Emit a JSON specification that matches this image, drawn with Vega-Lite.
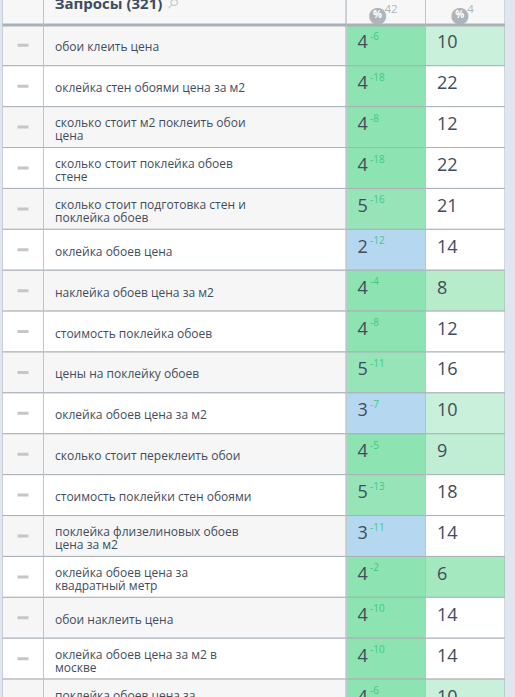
{
  "$schema": "https://vega.github.io/schema/vega-lite/v6.json",
  "background": "#dfe6ef",
  "padding": {"left": 2.5, "top": 0, "right": 10.5, "bottom": 0},
  "spacing": 0,
  "resolve": {"scale": {"fill": "independent"}},
  "config": {
    "view": {"stroke": null},
    "text": {"font": "Open Sans", "color": "#3f4d5e"}
  },
  "datasets": {
    "rows": [
      {"row": 1, "shade": "odd", "lines": 1, "query": "обои клеить цена", "a": 4, "delta": "-6", "b": 10},
      {"row": 2, "shade": "even", "lines": 1, "query": "оклейка стен обоями цена за м2", "a": 4, "delta": "-18", "b": 22},
      {"row": 3, "shade": "odd", "lines": 2, "query": "сколько стоит м2 поклеить обои\nцена", "a": 4, "delta": "-8", "b": 12},
      {"row": 4, "shade": "even", "lines": 2, "query": "сколько стоит поклейка обоев\nстене", "a": 4, "delta": "-18", "b": 22},
      {"row": 5, "shade": "odd", "lines": 2, "query": "сколько стоит подготовка стен и\nпоклейка обоев", "a": 5, "delta": "-16", "b": 21},
      {"row": 6, "shade": "even", "lines": 1, "query": "оклейка обоев цена", "a": 2, "delta": "-12", "b": 14},
      {"row": 7, "shade": "odd", "lines": 1, "query": "наклейка обоев цена за м2", "a": 4, "delta": "-4", "b": 8},
      {"row": 8, "shade": "even", "lines": 1, "query": "стоимость поклейка обоев", "a": 4, "delta": "-8", "b": 12},
      {"row": 9, "shade": "odd", "lines": 1, "query": "цены на поклейку обоев", "a": 5, "delta": "-11", "b": 16},
      {"row": 10, "shade": "even", "lines": 1, "query": "оклейка обоев цена за м2", "a": 3, "delta": "-7", "b": 10},
      {"row": 11, "shade": "odd", "lines": 1, "query": "сколько стоит переклеить обои", "a": 4, "delta": "-5", "b": 9},
      {"row": 12, "shade": "even", "lines": 1, "query": "стоимость поклейки стен обоями", "a": 5, "delta": "-13", "b": 18},
      {"row": 13, "shade": "odd", "lines": 2, "query": "поклейка флизелиновых обоев\nцена за м2", "a": 3, "delta": "-11", "b": 14},
      {"row": 14, "shade": "even", "lines": 2, "query": "оклейка обоев цена за\nквадратный метр", "a": 4, "delta": "-2", "b": 6},
      {"row": 15, "shade": "odd", "lines": 1, "query": "обои наклеить цена", "a": 4, "delta": "-10", "b": 14},
      {"row": 16, "shade": "even", "lines": 2, "query": "оклейка обоев цена за м2 в\nмоскве", "a": 4, "delta": "-10", "b": 14},
      {"row": 17, "shade": "odd", "lines": 2, "query": "поклейка обоев цена за\nквадратный метр", "a": 4, "delta": "-6", "b": 10}
    ],
    "header": [
      {"row": 0, "title": "Запросы (321)", "search": "⌕", "icon": "●", "percent": "%", "a": "42", "b": "4"}
    ]
  },
  "hconcat": [
    {
      "width": 41,
      "height": 697,
      "layer": [
        {
          "data": {"name": "header"},
          "mark": {"type": "rect", "clip": true, "fill": "#f7f7f7", "stroke": "#a9b1b8"},
          "encoding": {"y": {"field": "row", "type": "ordinal", "axis": null, "scale": {"domain": [0, 1, 2, 3, 4, 5, 6, 7, 8, 9, 10, 11, 12, 13, 14, 15, 16, 17], "range": [-16, 720], "paddingInner": 0, "paddingOuter": 0}}}
        },
        {
          "data": {"name": "rows"},
          "mark": {"type": "rect", "clip": true, "stroke": "#a9b1b8"},
          "encoding": {
            "y": {"field": "row", "type": "ordinal", "axis": null},
            "fill": {"field": "shade", "type": "nominal", "legend": null, "scale": {"domain": ["odd", "even"], "range": ["#f6f6f6", "#ffffff"]}}
          }
        },
        {
          "data": {"name": "rows"},
          "mark": {"type": "tick", "clip": true, "color": "#c6c6c6", "thickness": 3, "size": 11, "orient": "horizontal", "opacity": 1},
          "encoding": {"y": {"field": "row", "type": "ordinal", "axis": null}}
        },
        {
          "data": {"name": "header"},
          "mark": {"type": "rule", "clip": true, "color": "#a9b1b8", "strokeWidth": 3},
          "encoding": {"y": {"field": "row", "type": "ordinal", "axis": null, "bandPosition": 1}}
        }
      ]
    },
    {
      "width": 302.5,
      "height": 697,
      "layer": [
        {
          "data": {"name": "header"},
          "mark": {"type": "rect", "clip": true, "fill": "#f7f7f7", "stroke": "#a9b1b8"},
          "encoding": {"y": {"field": "row", "type": "ordinal", "axis": null, "scale": {"domain": [0, 1, 2, 3, 4, 5, 6, 7, 8, 9, 10, 11, 12, 13, 14, 15, 16, 17], "range": [-16, 720], "paddingInner": 0, "paddingOuter": 0}}}
        },
        {
          "data": {"name": "rows"},
          "mark": {"type": "rect", "clip": true, "stroke": "#a9b1b8"},
          "encoding": {
            "y": {"field": "row", "type": "ordinal", "axis": null},
            "fill": {"field": "shade", "type": "nominal", "legend": null, "scale": {"domain": ["odd", "even"], "range": ["#f6f6f6", "#ffffff"]}}
          }
        },
        {
          "data": {"name": "rows"},
          "transform": [{"filter": "datum.lines == 1"}],
          "mark": {"type": "text", "clip": true, "align": "left", "baseline": "middle", "dx": -139.75, "dy": 2, "fontSize": 12},
          "encoding": {
            "y": {"field": "row", "type": "ordinal", "axis": null},
            "text": {"field": "query", "type": "nominal"}
          }
        },
        {
          "data": {"name": "rows"},
          "transform": [{"filter": "datum.lines == 2"}],
          "mark": {"type": "text", "clip": true, "align": "left", "baseline": "middle", "dx": -139.75, "dy": -4, "fontSize": 12, "lineHeight": 13, "lineBreak": "\n"},
          "encoding": {
            "y": {"field": "row", "type": "ordinal", "axis": null},
            "text": {"field": "query", "type": "nominal"}
          }
        },
        {
          "data": {"name": "header"},
          "mark": {"type": "rule", "clip": true, "color": "#a9b1b8", "strokeWidth": 3},
          "encoding": {"y": {"field": "row", "type": "ordinal", "axis": null, "bandPosition": 1}}
        },
        {
          "data": {"name": "header"},
          "mark": {"type": "text", "clip": true, "align": "left", "baseline": "middle", "dx": -140, "dy": 0, "fontSize": 15, "fontWeight": "bold"},
          "encoding": {
            "y": {"field": "row", "type": "ordinal", "axis": null},
            "text": {"field": "title", "type": "nominal"}
          }
        },
        {
          "data": {"name": "header"},
          "mark": {"type": "text", "clip": true, "align": "left", "baseline": "middle", "font": "DejaVu Sans", "dx": -27, "dy": -2, "fontSize": 22, "color": "#c8c8c8"},
          "encoding": {
            "y": {"field": "row", "type": "ordinal", "axis": null},
            "text": {"field": "search", "type": "nominal"}
          }
        }
      ]
    },
    {
      "width": 79,
      "height": 697,
      "layer": [
        {
          "data": {"name": "header"},
          "mark": {"type": "rect", "clip": true, "fill": "#f7f7f7", "stroke": "#a9b1b8"},
          "encoding": {"y": {"field": "row", "type": "ordinal", "axis": null, "scale": {"domain": [0, 1, 2, 3, 4, 5, 6, 7, 8, 9, 10, 11, 12, 13, 14, 15, 16, 17], "range": [-16, 720], "paddingInner": 0, "paddingOuter": 0}}}
        },
        {
          "data": {"name": "rows"},
          "mark": {"type": "rect", "clip": true, "stroke": "#a9b1b8"},
          "encoding": {
            "y": {"field": "row", "type": "ordinal", "axis": null},
            "fill": {"field": "a", "type": "ordinal", "legend": null, "scale": {"domain": [2, 3, 4, 5], "range": ["#b6d7f0", "#b6d7f0", "#8de3b1", "#96e4b8"]}}
          }
        },
        {
          "data": {"name": "rows"},
          "mark": {"type": "text", "clip": true, "align": "left", "baseline": "middle", "dx": -28.5, "dy": -2, "fontSize": 18},
          "encoding": {
            "y": {"field": "row", "type": "ordinal", "axis": null},
            "text": {"field": "a", "type": "nominal"}
          }
        },
        {
          "data": {"name": "rows"},
          "mark": {"type": "text", "clip": true, "align": "left", "baseline": "middle", "dx": -16, "dy": -8.5, "fontSize": 10, "color": "#3ecb7f"},
          "encoding": {
            "y": {"field": "row", "type": "ordinal", "axis": null},
            "text": {"field": "delta", "type": "nominal"}
          }
        },
        {
          "data": {"name": "header"},
          "mark": {"type": "rule", "clip": true, "color": "#a9b1b8", "strokeWidth": 3},
          "encoding": {"y": {"field": "row", "type": "ordinal", "axis": null, "bandPosition": 1}}
        },
        {
          "data": {"name": "header"},
          "mark": {"type": "text", "clip": true, "align": "left", "baseline": "middle", "dx": -1.5, "dy": 6, "fontSize": 11.5, "color": "#b0b5ba"},
          "encoding": {
            "y": {"field": "row", "type": "ordinal", "axis": null},
            "text": {"field": "a", "type": "nominal"}
          }
        },
        {
          "data": {"name": "header"},
          "mark": {"type": "text", "clip": true, "align": "center", "baseline": "middle", "font": "DejaVu Sans", "dx": -8.5, "dy": 10.5, "fontSize": 22, "color": "#aeb4ba"},
          "encoding": {
            "y": {"field": "row", "type": "ordinal", "axis": null},
            "text": {"field": "icon", "type": "nominal"}
          }
        },
        {
          "data": {"name": "header"},
          "mark": {"type": "text", "clip": true, "align": "center", "baseline": "middle", "dx": -8.5, "dy": 11, "fontSize": 10, "fontWeight": "bold", "color": "#ffffff"},
          "encoding": {
            "y": {"field": "row", "type": "ordinal", "axis": null},
            "text": {"field": "percent", "type": "nominal"}
          }
        }
      ]
    },
    {
      "width": 79.5,
      "height": 697,
      "layer": [
        {
          "data": {"name": "header"},
          "mark": {"type": "rect", "clip": true, "fill": "#f7f7f7", "stroke": "#a9b1b8"},
          "encoding": {"y": {"field": "row", "type": "ordinal", "axis": null, "scale": {"domain": [0, 1, 2, 3, 4, 5, 6, 7, 8, 9, 10, 11, 12, 13, 14, 15, 16, 17], "range": [-16, 720], "paddingInner": 0, "paddingOuter": 0}}}
        },
        {
          "data": {"name": "rows"},
          "mark": {"type": "rect", "clip": true, "stroke": "#a9b1b8"},
          "encoding": {
            "y": {"field": "row", "type": "ordinal", "axis": null},
            "fill": {"field": "b", "type": "ordinal", "legend": null, "scale": {"domain": [6, 8, 9, 10, 12, 14, 16, 18, 21, 22], "range": ["#a3e8bf", "#b7ecca", "#c0eed4", "#c8f0da", "#ffffff", "#ffffff", "#ffffff", "#ffffff", "#ffffff", "#ffffff"]}}
          }
        },
        {
          "data": {"name": "rows"},
          "mark": {"type": "text", "clip": true, "align": "left", "baseline": "middle", "dx": -28.25, "dy": -2, "fontSize": 18},
          "encoding": {
            "y": {"field": "row", "type": "ordinal", "axis": null},
            "text": {"field": "b", "type": "nominal"}
          }
        },
        {
          "data": {"name": "header"},
          "mark": {"type": "rule", "clip": true, "color": "#a9b1b8", "strokeWidth": 3},
          "encoding": {"y": {"field": "row", "type": "ordinal", "axis": null, "bandPosition": 1}}
        },
        {
          "data": {"name": "header"},
          "mark": {"type": "text", "clip": true, "align": "left", "baseline": "middle", "dx": 2, "dy": 6, "fontSize": 11.5, "color": "#b0b5ba"},
          "encoding": {
            "y": {"field": "row", "type": "ordinal", "axis": null},
            "text": {"field": "b", "type": "nominal"}
          }
        },
        {
          "data": {"name": "header"},
          "mark": {"type": "text", "clip": true, "align": "center", "baseline": "middle", "font": "DejaVu Sans", "dx": -5.5, "dy": 10.5, "fontSize": 22, "color": "#aeb4ba"},
          "encoding": {
            "y": {"field": "row", "type": "ordinal", "axis": null},
            "text": {"field": "icon", "type": "nominal"}
          }
        },
        {
          "data": {"name": "header"},
          "mark": {"type": "text", "clip": true, "align": "center", "baseline": "middle", "dx": -5.5, "dy": 11, "fontSize": 10, "fontWeight": "bold", "color": "#ffffff"},
          "encoding": {
            "y": {"field": "row", "type": "ordinal", "axis": null},
            "text": {"field": "percent", "type": "nominal"}
          }
        }
      ]
    }
  ]
}
